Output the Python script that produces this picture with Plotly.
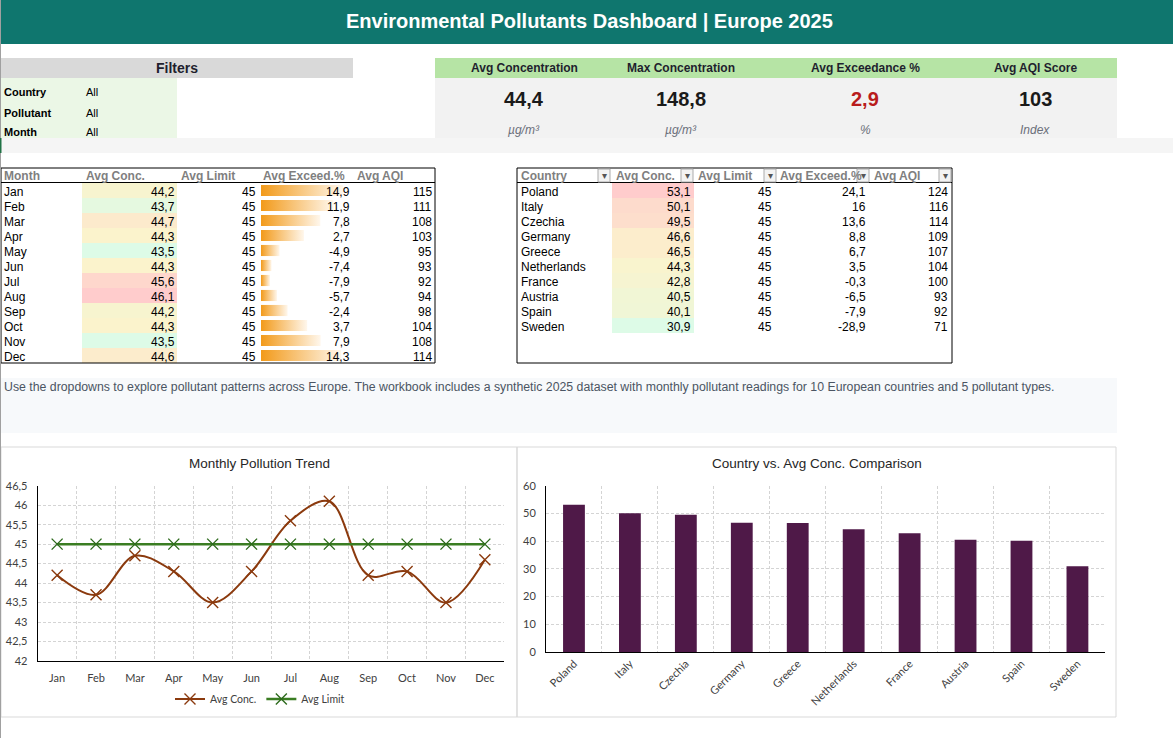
import plotly.graph_objects as go

W, H = 1173, 738

# ---------------- data ----------------
months = ['Jan', 'Feb', 'Mar', 'Apr', 'May', 'Jun', 'Jul', 'Aug', 'Sep', 'Oct', 'Nov', 'Dec']
month_conc = [44.2, 43.7, 44.7, 44.3, 43.5, 44.3, 45.6, 46.1, 44.2, 44.3, 43.5, 44.6]
month_limit = [45, 45, 45, 45, 45, 45, 45, 45, 45, 45, 45, 45]
month_exceed = [14.9, 11.9, 7.8, 2.7, -4.9, -7.4, -7.9, -5.7, -2.4, 3.7, 7.9, 14.3]
month_aqi = [115, 111, 108, 103, 95, 93, 92, 94, 98, 104, 108, 114]

countries = ['Poland', 'Italy', 'Czechia', 'Germany', 'Greece', 'Netherlands', 'France', 'Austria', 'Spain', 'Sweden']
country_conc = [53.1, 50.1, 49.5, 46.6, 46.5, 44.3, 42.8, 40.5, 40.1, 30.9]
country_limit = [45, 45, 45, 45, 45, 45, 45, 45, 45, 45]
country_exceed = [24.1, 16, 13.6, 8.8, 6.7, 3.5, -0.3, -6.5, -7.9, -28.9]
country_aqi = [124, 116, 114, 109, 107, 104, 100, 93, 92, 71]

kpi_labels = ['Avg Concentration', 'Max Concentration', 'Avg Exceedance %', 'Avg AQI Score']
kpi_values = [44.4, 148.8, 2.9, 103]
kpi_units = ['µg/m³', 'µg/m³', '%', 'Index']

filter_labels = ['Country', 'Pollutant', 'Month']
filter_values = ['All', 'All', 'All']

month_headers = ['Month', 'Avg Conc.', 'Avg Limit', 'Avg Exceed.%', 'Avg AQI']
country_headers = ['Country', 'Avg Conc.', 'Avg Limit', 'Avg Exceed.%', 'Avg AQI']

title_text = 'Environmental Pollutants Dashboard | Europe 2025'
note_text = ('Use the dropdowns to explore pollutant patterns across Europe. The workbook includes a synthetic '
             '2025 dataset with monthly pollutant readings for 10 European countries and 5 pollutant types.')

# ---------------- helpers ----------------
ARIAL = 'Liberation Sans, Arial, sans-serif'
CALI = 'Lato, Carlito, Calibri, sans-serif'

shapes = []
annotations = []


def X(px):
    return px / W


def Y(py):
    return 1 - py / H


def rect(x0, y0, x1, y1, fill=None, line=None, lw=1, layer='below'):
    shapes.append(dict(type='rect', xref='paper', yref='paper', x0=X(x0), x1=X(x1), y0=Y(y1), y1=Y(y0),
                       fillcolor=fill if fill else 'rgba(0,0,0,0)',
                       line=dict(color=line if line else 'rgba(0,0,0,0)', width=lw if line else 0),
                       layer=layer))


def hline(x0, x1, y, color, lw=1, layer='above'):
    shapes.append(dict(type='line', xref='paper', yref='paper', x0=X(x0), x1=X(x1), y0=Y(y), y1=Y(y),
                       line=dict(color=color, width=lw), layer=layer))


def vline(x, y0, y1, color, lw=1, layer='above'):
    shapes.append(dict(type='line', xref='paper', yref='paper', x0=X(x), x1=X(x), y0=Y(y0), y1=Y(y1),
                       line=dict(color=color, width=lw), layer=layer))


def text(t, x, y, size=12, color='#000000', xa='left', family=ARIAL, bold=False, italic=False):
    if bold:
        t = '<b>' + t + '</b>'
    if italic:
        t = '<i>' + t + '</i>'
    annotations.append(dict(text=t, x=X(x), y=Y(y), xref='paper', yref='paper', xanchor=xa, yanchor='middle',
                            showarrow=False, borderpad=0, font=dict(size=size, color=color, family=family)))


def fmt(v):
    return str(v).replace('.', ',')


def mix(c1, c2, t):
    return tuple(round(a + (b - a) * t) for a, b in zip(c1, c2))


LOW, MID, HIGH = (221, 251, 231), (251, 243, 204), (255, 204, 204)


def scale_color(v, vals):
    s = sorted(vals)
    n = len(s)
    med = (s[(n - 1) // 2] + s[n // 2]) / 2
    lo, hi = s[0], s[-1]
    if v <= med:
        c = mix(LOW, MID, (v - lo) / (med - lo) if med > lo else 1)
    else:
        c = mix(MID, HIGH, (v - med) / (hi - med) if hi > med else 1)
    return 'rgb(%d,%d,%d)' % c


# ---------------- background blocks ----------------
rect(0, 0, W, 44, fill='#0F766E')
text(title_text, 589, 21, size=20, color='#FFFFFF', xa='center', bold=True)

# filters
rect(0, 58, 353, 78, fill='#D9D9D9')
text('Filters', 177, 68, size=14, color='#1F1F2E', xa='center', bold=True)
rect(0, 78, 177, 138, fill='#EBF7E6')
for i, (lab, val) in enumerate(zip(filter_labels, filter_values)):
    yy = [92, 113, 132][i]
    text(lab, 3, yy, size=11, color='#000000', bold=True)
    text(val, 85, yy, size=11, color='#000000')

# KPI cards
rect(435, 58, 1117, 78, fill='#B6E4A5')
rect(435, 78, 1117, 138, fill='#F2F2F2')
kpi_x = [524, 681, 865, 1035]
for i in range(4):
    text(kpi_labels[i], kpi_x[i], 68, size=12, color='#1F1F2E', xa='center', bold=True)
    col = '#B91C1C' if i == 2 else '#1A1A1A'
    text(fmt(kpi_values[i]), kpi_x[i], 98.5, size=20, color=col, xa='center', bold=True)
    text(kpi_units[i], kpi_x[i], 130.5, size=12, color='#6B6F7A', xa='center', italic=True)

rect(0, 138, W, 153, fill='#F5F5F5')

# ---------------- month table ----------------
rect(1, 168, 435, 363, line='#000000', lw=1, layer='above')
hline(1, 435, 182.5, '#000000', 1)
mh_x = [3, 85, 180, 262, 356]
for h, xx in zip(month_headers, mh_x):
    text(h, xx, 176, size=12, color='#7F7F7F', bold=True)
for i, m in enumerate(months):
    y0 = 183 + 15 * i
    yc = y0 + 8.8
    rect(82, y0, 177, y0 + 15, fill=scale_color(month_conc[i], month_conc))
    text(m, 3, yc, size=12)
    text(fmt(month_conc[i]), 176, yc, size=12, xa='right')
    text(fmt(month_limit[i]), 257, yc, size=12, xa='right')
    text(fmt(month_exceed[i]), 351, yc, size=12, xa='right')
    text(fmt(month_aqi[i]), 433, yc, size=12, xa='right')

# ---------------- country table ----------------
rect(517, 168, 952, 363, line='#000000', lw=1, layer='above')
hline(517, 952, 182.5, '#000000', 1)
ch_x = [520, 615, 697, 779, 873]
btn_x = [598, 681, 764, 857, 939]
for h, xx in zip(country_headers, ch_x):
    text(h, xx, 176, size=12, color='#7F7F7F', bold=True)
for bx in btn_x:
    rect(bx, 169, bx + 12, 182, fill='#F3F3F3', line='#ABABAB', lw=1, layer='above')
    text('▾', bx + 6, 175.5, size=10, color='#555555', xa='center', family='DejaVu Sans')
for i, c in enumerate(countries):
    y0 = 183 + 15 * i
    yc = y0 + 8.8
    rect(612, y0, 694, y0 + 15, fill=scale_color(country_conc[i], country_conc))
    text(c, 520, yc, size=12)
    text(fmt(country_conc[i]), 692, yc, size=12, xa='right')
    text(fmt(country_limit[i]), 773, yc, size=12, xa='right')
    text(fmt(country_exceed[i]), 867, yc, size=12, xa='right')
    text(fmt(country_aqi[i]), 949, yc, size=12, xa='right')

# ---------------- note ----------------
rect(0, 378, 1117, 433, fill='#F7F9FB')
text(note_text, 3, 386.5, size=12.3, color='#4B5563')

# ---------------- chart boxes ----------------
rect(1, 447, 517, 717, line='#D9D9D9', lw=1)
rect(517, 447, 1116, 717, line='#D9D9D9', lw=1)
text('Monthly Pollution Trend', 259, 463, size=13.5, color='#262626', xa='center')
text('Country vs. Avg Conc. Comparison', 817, 463, size=13.5, color='#262626', xa='center')

# sheet edge
vline(0.5, 0, H, '#A0A0A0', 1)
vline(0.5, 138, 153, '#217346', 2)

fig = go.Figure()

# line chart
fig.add_trace(go.Scatter(
    x=months, y=month_conc, name='Avg Conc.', mode='lines+markers',
    line=dict(color='#8B3A0E', width=2, shape='spline', smoothing=1),
    marker=dict(symbol='x-thin', size=11, color='#8B3A0E', line=dict(color='#8B3A0E', width=1.4)),
    xaxis='x', yaxis='y', hoverinfo='skip'))
fig.add_trace(go.Scatter(
    x=months, y=month_limit, name='Avg Limit', mode='lines+markers',
    line=dict(color='#3A7D22', width=2.5),
    marker=dict(symbol='x-thin', size=11, color='#2D6A1C', line=dict(color='#2D6A1C', width=1.4)),
    xaxis='x', yaxis='y', hoverinfo='skip'))

# bar chart
fig.add_trace(go.Bar(
    x=countries, y=country_conc, marker=dict(color='#4F1948', line=dict(width=0)),
    xaxis='x2', yaxis='y2', showlegend=False, hoverinfo='skip'))

# data bars in month table
DB_MIN, DB_MAX = -10.7, 17.7
for i, v in enumerate(month_exceed):
    fig.add_trace(go.Scatter(
        x=[DB_MIN, v, v, DB_MIN, DB_MIN], y=[i - 0.37, i - 0.37, i + 0.37, i + 0.37, i - 0.37],
        mode='lines', line=dict(width=0, color='rgba(0,0,0,0)'), fill='toself',
        fillgradient=dict(type='horizontal', colorscale=[[0, '#F29A1A'], [1, '#FFF7EC']]),
        xaxis='x3', yaxis='y3', showlegend=False, hoverinfo='skip'))

grid = dict(showgrid=True, gridcolor='#D4D4D4', griddash='3px,2px', gridwidth=1,
            showline=True, linecolor='#000000', linewidth=1, ticks='', zeroline=False, fixedrange=True,
            automargin=False)

fig.update_layout(
    width=W, height=H, margin=dict(l=0, r=0, t=0, b=0, pad=0, autoexpand=False),
    paper_bgcolor='white', plot_bgcolor='rgba(0,0,0,0)',
    separators=', ', bargap=0.61,
    font=dict(family=ARIAL, size=12, color='#000000'),
    shapes=shapes, annotations=annotations,
    showlegend=True,
    legend=dict(orientation='h', x=X(260), xanchor='center', y=Y(699), yanchor='middle',
                font=dict(family=CALI, size=10.5, color='#404040'), itemwidth=30,
                bgcolor='rgba(0,0,0,0)', tracegroupgap=0),
    xaxis=dict(domain=[X(37.7), X(504.3)], type='category', range=[-0.5, 11.5], tickson='boundaries',
               tickfont=dict(family=CALI, size=11, color='#404040'), ticklabelstandoff=7,
               anchor='y', **grid),
    yaxis=dict(domain=[Y(661), Y(485.7)], range=[42, 46.5], dtick=0.5, tickformat='.1~f',
               tickfont=dict(family=CALI, size=11, color='#404040'), ticklabelstandoff=7,
               anchor='x', **grid),
    xaxis2=dict(domain=[X(546), X(1105.4)], type='category', range=[-0.5, 9.5], tickson='boundaries',
                tickangle=-45, tickfont=dict(family=CALI, size=11, color='#404040'),
                anchor='y2', **grid),
    yaxis2=dict(domain=[Y(652), Y(485.7)], range=[0, 60], dtick=10,
                tickfont=dict(family=CALI, size=11, color='#404040'), ticklabelstandoff=7,
                anchor='x2', **grid),
    xaxis3=dict(domain=[X(261), X(352)], range=[DB_MIN, DB_MAX], visible=False, fixedrange=True, anchor='y3'),
    yaxis3=dict(domain=[Y(363), Y(183)], range=[11.5, -0.5], visible=False, fixedrange=True, anchor='x3'),
)

fig.write_html('out.html')
